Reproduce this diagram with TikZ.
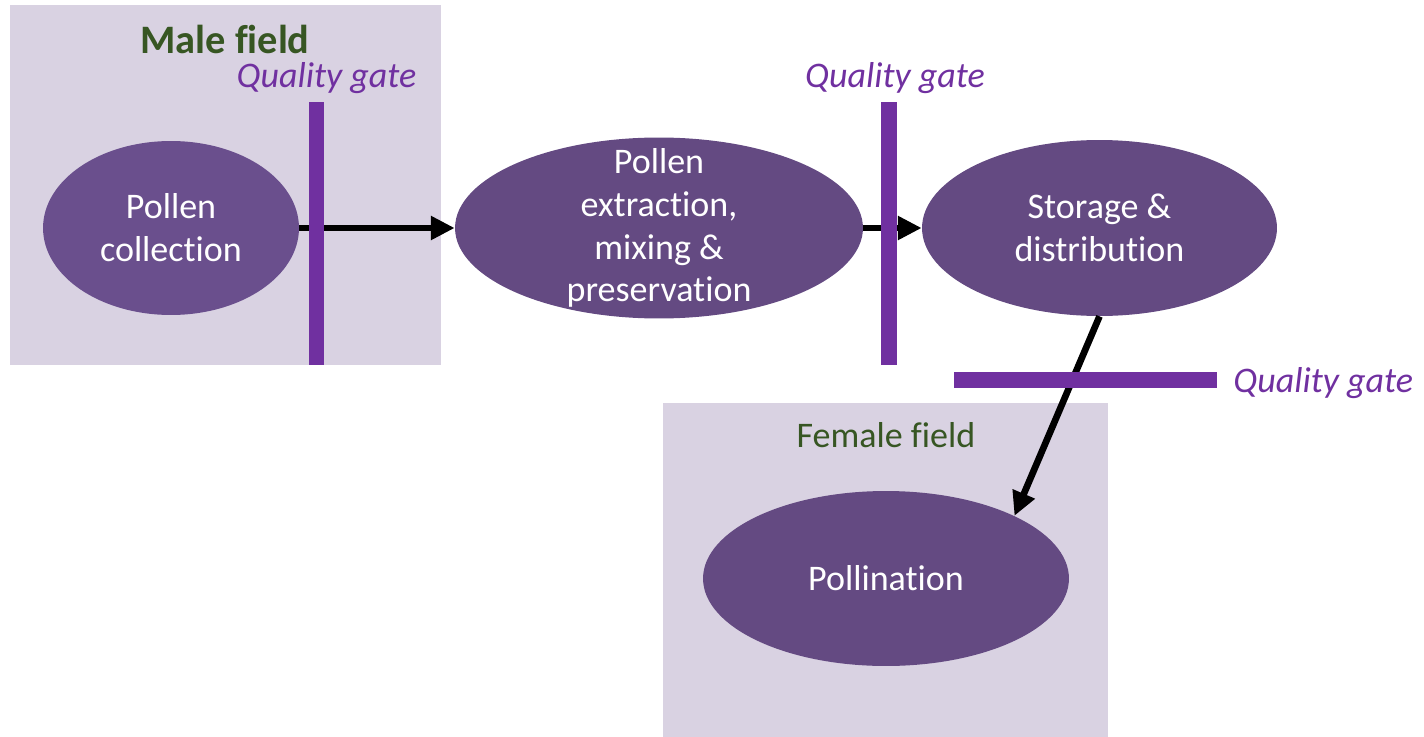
\documentclass[tikz,border=0pt]{standalone}
\usepackage{fontspec}
\setmainfont[Ligatures=NoCommon]{Carlito}
\usetikzlibrary{shapes.geometric,arrows.meta}
\definecolor{fieldbg}{HTML}{D9D2E2}
\definecolor{ellA}{HTML}{6A4F8D}
\definecolor{ellB}{HTML}{644A82}
\definecolor{gatec}{HTML}{7030A0}
\definecolor{greentxt}{HTML}{375623}
\tikzset{
  field/.style={fill=fieldbg, draw=none},
  blob/.style={ellipse, draw=none, inner sep=0pt},
  blobtext/.style={text=white, align=center, font=\fontsize{20.5}{24.4}\selectfont},
  gatebar/.style={rectangle, fill=gatec, draw=none, inner sep=0pt},
  gatelabel/.style={text=gatec, font=\fontsize{20.5}{24}\selectfont\itshape, inner sep=0pt},
  fieldlabel/.style={text=greentxt, inner sep=0pt},
  flow/.style={line width=3.8pt, -{Triangle[length=13.6pt,width=13pt]}}
}
\begin{document}
\begin{tikzpicture}[x=0.02cm,y=-0.02cm]
\useasboundingbox (0,0) rectangle (1424,737);
% fields
\fill[field] (10,5) rectangle (441,365);
\fill[field] (663,403) rectangle (1108,737);
\node[fieldlabel, anchor=base, font=\fontsize{23}{27}\selectfont\bfseries] (male) at (225,53) {Male field};
\node[fieldlabel, anchor=base, font=\fontsize{20.5}{24}\selectfont] (female) at (886,447) {Female field};
% ellipses
\node[blob, fill=ellA, minimum width=5.12cm, minimum height=3.48cm] (e1) at (171,228) {};
\node[blob, fill=ellB, minimum width=8.16cm, minimum height=3.62cm] (e2) at (659,228) {};
\node[blob, fill=ellB, minimum width=7.1cm, minimum height=3.52cm] (e3) at (1099.5,228) {};
\node[blob, fill=ellB, minimum width=7.32cm, minimum height=3.5cm] (e4) at (886,578.5) {};
\node[blobtext] (t1) at (171,228) {Pollen\\collection};
\node[blobtext] (t2) at (659,228) {Pollen\\extraction,\\mixing \&\\preservation};
\node[blobtext] (t3) at (1099.5,228) {Storage \&\\distribution};
\node[blobtext] (t4) at (886,578.5) {Pollination};
% arrows
\draw[flow] (e1.east) -- (e2.west);
\draw[flow] (e2.east) -- (e3.west);
\draw[flow] (e3.south) -- (e4.26);
% gates
\node[gatebar, minimum width=0.30cm, minimum height=5.26cm] (g1) at (316.5,233.5) {};
\node[gatebar, minimum width=0.32cm, minimum height=5.26cm] (g2) at (889,233.5) {};
\node[gatebar, minimum width=5.26cm, minimum height=0.32cm] (g3) at (1085.5,380) {};
\node[gatelabel, anchor=base] (q1) at (326.5,87) {Quality gate};
\node[gatelabel, anchor=base] (q2) at (895,87) {Quality gate};
\node[gatelabel, anchor=base west] (q3) at (1233,392) {Quality gate};
\end{tikzpicture}
\end{document}
